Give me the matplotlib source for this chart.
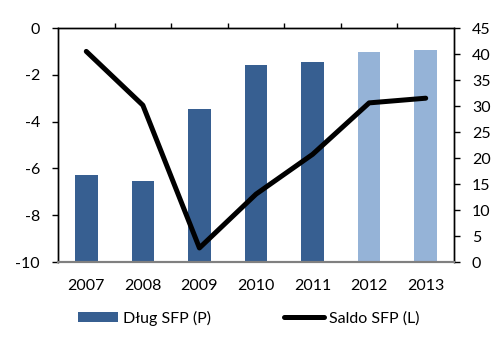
import matplotlib
matplotlib.use("Agg")
import matplotlib.pyplot as plt
import numpy as np
from matplotlib.patches import Patch
from matplotlib.lines import Line2D

years = ["2007", "2008", "2009", "2010", "2011", "2012", "2013"]
dlug = [16.7, 15.6, 29.4, 37.9, 38.5, 40.4, 40.8]      # right axis (P)
saldo = [-1.0, -3.3, -9.4, -7.1, -5.4, -3.2, -3.0]     # left axis (L)
bar_colors = ["#375F91", "#375F91", "#375F91", "#375F91", "#375F91", "#95B3D7", "#95B3D7"]

plt.rcParams['font.family'] = ['Lato', 'DejaVu Sans']
plt.rcParams['axes.unicode_minus'] = False
FS = 11.5

fig = plt.figure(figsize=(5.01, 3.47), dpi=100)
ax = fig.add_axes([58/501, 1-262/347, (454-58)/501, (262-28)/347])
ax2 = ax.twinx()

x = np.arange(len(years))
ax2.bar(x, dlug, width=0.4, color=bar_colors, zorder=2)
ax.plot(x, saldo, color="black", lw=3.6, solid_capstyle="round", solid_joinstyle="round", zorder=3)

ax.set_zorder(ax2.get_zorder() + 1)
ax.patch.set_visible(False)

ax.set_xlim(-0.5, len(years) - 0.5)
ax.set_ylim(-10, 0)
ax2.set_ylim(0, 45)
ax.set_yticks(np.arange(-10, 1, 2))
ax2.set_yticks(np.arange(0, 46, 5))

ax.set_xticks(x)
ax.set_xticklabels(years, fontsize=FS)
ax.set_xticks(np.arange(0.5, len(years) - 1, 1), minor=True)
ax.tick_params(axis='x', which='major', length=0, pad=12)
ax.tick_params(axis='x', which='minor', bottom=False, top=True, direction='out', length=3.6, width=1)
ax2.tick_params(axis='x', which='both', bottom=False, top=False)
ax.tick_params(axis='y', direction='out', length=4.3, width=1, pad=8.6, labelsize=FS)
ax2.tick_params(axis='y', direction='out', length=4.3, width=1, pad=8.6, labelsize=FS)

for a in (ax, ax2):
    a.spines['bottom'].set_color('#808080')
    a.spines['bottom'].set_linewidth(1.5)
    for s in ('left', 'right', 'top'):
        a.spines[s].set_color('black')
        a.spines[s].set_linewidth(1)

handles = [Patch(facecolor="#375F91", edgecolor="none"),
           Line2D([0], [0], color="black", lw=3.6, solid_capstyle="round")]
labels = ["Dług SFP (P)", "Saldo SFP (L)"]
fig.legend(handles, labels, loc='center left', bbox_to_anchor=(78/501, 1-318/347),
           ncol=2, frameon=False, fontsize=FS, handlelength=2.5, handleheight=0.6,
           handletextpad=0.3, columnspacing=4.6, borderpad=0, borderaxespad=0)

fig.savefig("out.png", dpi=100)
